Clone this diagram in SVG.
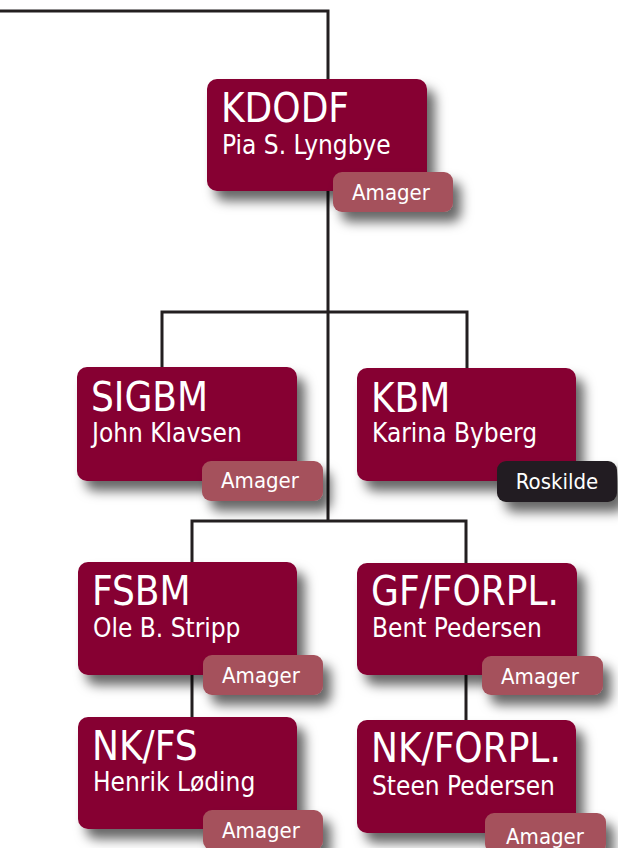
<svg xmlns="http://www.w3.org/2000/svg" width="618" height="848" viewBox="0 0 618 848">
<style>
.line{fill:none;stroke:#231f20;stroke-width:3;stroke-linejoin:miter}
.box{fill:#860032;filter:url(#sh)}
.tag{fill:#a5515b;filter:url(#sh)}
.tagd{fill:#231f20;filter:url(#sh)}
text{font-family:"DejaVu Sans Condensed","DejaVu Sans",sans-serif;font-stretch:condensed;fill:#ffffff}
.t{font-size:40px}
.n{font-size:26px}
.g{font-size:22px;text-anchor:middle}
</style>
<defs>
<filter id="sh" x="-20%" y="-30%" width="150%" height="190%">
<feDropShadow dx="8" dy="10" stdDeviation="6" flood-color="#000" flood-opacity="0.6"/>
</filter>
</defs>
<rect width="618" height="848" fill="#ffffff"/>
<g id="offcanvas-shadows">
<rect class="tag" x="-130" y="656" width="124" height="40" rx="9"/>
<rect class="tag" x="-130" y="811" width="124" height="40" rx="9"/>
</g>
<g id="connectors">
<path class="line" d="M0,11 H328 V521"/>
<path class="line" d="M162,367 V312 H467 V368"/>
<path class="line" d="M192,562 V521 H466 V563"/>
<path class="line" d="M192,675 V717"/>
<path class="line" d="M466,675 V720"/>
</g>
<g id="node-kdodf">
<rect class="box" x="207" y="79" width="220" height="112" rx="10"/>
<text class="t" x="221" y="122">KDODF</text>
<text class="n" x="222" y="154">Pia S. Lyngbye</text>
<rect class="tag" x="333" y="172" width="120" height="40" rx="9"/>
<text class="g" x="391" y="200">Amager</text>
</g>
<g id="node-sigbm">
<rect class="box" x="77" y="367" width="220" height="114" rx="10"/>
<text class="t" x="91" y="411">SIGBM</text>
<text class="n" x="92" y="442">John Klavsen</text>
<rect class="tag" x="202" y="461" width="121" height="40" rx="9"/>
<text class="g" x="260" y="488">Amager</text>
</g>
<g id="node-kbm">
<rect class="box" x="357" y="368" width="219" height="113" rx="10"/>
<text class="t" x="371" y="412">KBM</text>
<text class="n" x="372" y="442">Karina Byberg</text>
<rect class="tagd" x="497" y="461" width="120" height="41" rx="9"/>
<text class="g" x="557" y="489">Roskilde</text>
</g>
<g id="node-fsbm">
<rect class="box" x="78" y="562" width="219" height="113" rx="10"/>
<text class="t" x="92" y="605">FSBM</text>
<text class="n" x="93" y="637">Ole B. Stripp</text>
<rect class="tag" x="203" y="655" width="120" height="40" rx="9"/>
<text class="g" x="261" y="683">Amager</text>
</g>
<g id="node-gf-forpl">
<rect class="box" x="357" y="563" width="220" height="112" rx="10"/>
<text class="t" x="371" y="605">GF/FORPL.</text>
<text class="n" x="372" y="637">Bent Pedersen</text>
<rect class="tag" x="482" y="656" width="121" height="39" rx="9"/>
<text class="g" x="540" y="684">Amager</text>
</g>
<g id="node-nk-fs">
<rect class="box" x="78" y="717" width="219" height="112" rx="10"/>
<text class="t" x="92" y="760">NK/FS</text>
<text class="n" x="93" y="791">Henrik Løding</text>
<rect class="tag" x="203" y="810" width="120" height="40" rx="9"/>
<text class="g" x="261" y="838">Amager</text>
</g>
<g id="node-nk-forpl">
<rect class="box" x="357" y="720" width="219" height="113" rx="10"/>
<text class="t" x="371" y="762">NK/FORPL.</text>
<text class="n" x="372" y="795">Steen Pedersen</text>
<rect class="tag" x="485" y="813" width="121" height="40" rx="9"/>
<text class="g" x="545" y="844">Amager</text>
</g>
</svg>
